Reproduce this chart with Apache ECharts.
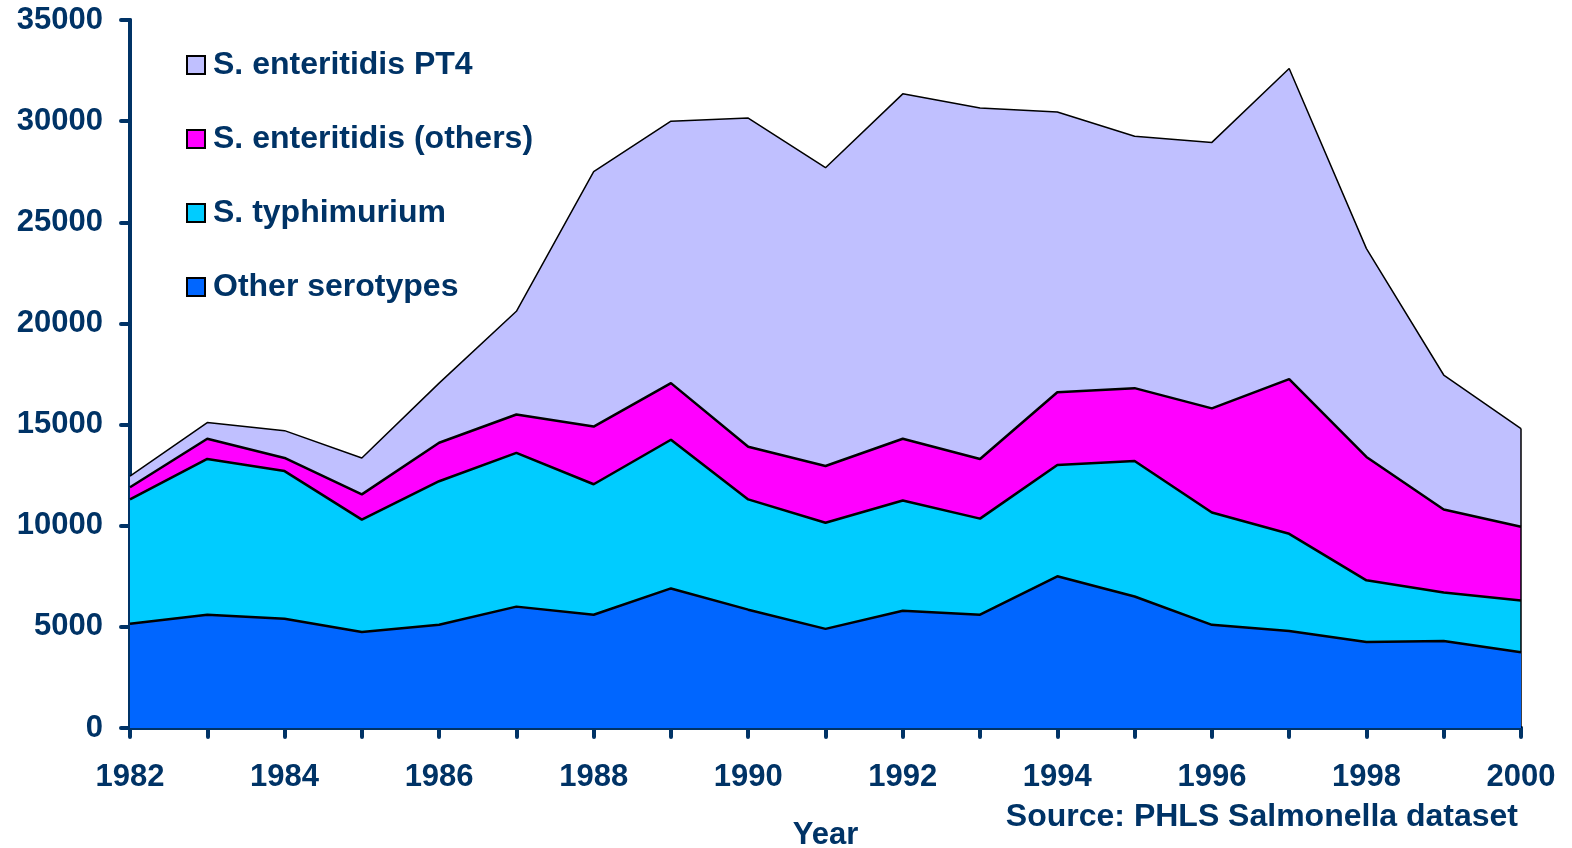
<!DOCTYPE html>
<html lang="en">
<head>
    <meta charset="UTF-8">
    <title>Salmonella serotypes 1982-2000</title>
    <script type="text/javascript" src="https://cdn.jsdelivr.net/npm/echarts@6/dist/echarts.min.js"></script>
    <style>
        html, body { margin: 0; padding: 0; background: #fff; }
    </style>
</head>
<body>
    <div id="charts" style="width:1572px;height:848px;"></div>
</body>
<script type="text/javascript">
    // data (per serotype, stacked from the bottom up)
    var years = ['1982', '1983', '1984', '1985', '1986', '1987', '1988', '1989', '1990', '1991',
                 '1992', '1993', '1994', '1995', '1996', '1997', '1998', '1999', '2000'];
    var otherSerotypes = [5150, 5600, 5400, 4750, 5100, 6000, 5600, 6900, 5850, 4900,
                          5800, 5600, 7500, 6500, 5100, 4800, 4250, 4300, 3750];
    var typhimurium = [6150, 7700, 7300, 5550, 7100, 7600, 6450, 7350, 5450, 5250,
                       5450, 4750, 5500, 6700, 5550, 4800, 3050, 2400, 2550];
    var enteritidisOthers = [600, 1000, 650, 1250, 1900, 1900, 2850, 2800, 2600, 2800,
                             3050, 2950, 3600, 3600, 5150, 7650, 6100, 4100, 3650];
    var enteritidisPT4 = [550, 800, 1350, 1800, 2950, 5100, 12600, 12950, 16250, 14750,
                          17050, 17350, 13850, 12450, 13150, 15350, 10300, 6650, 4850];

    var navy = '#003366';
    var font = 'Liberation Sans, Arial, sans-serif';

    var last = years.length - 1;
    var lastTotal = otherSerotypes[last] + typhimurium[last] + enteritidisOthers[last] + enteritidisPT4[last];

    function area(name, data, color, z, lineWidth) {
        return {
            name: name,
            type: 'line',
            stack: 'total',
            data: data,
            z: z,
            symbol: 'none',
            lineStyle: { color: '#000', width: lineWidth },
            areaStyle: { color: color, opacity: 1 },
            itemStyle: { color: color, borderColor: '#000', borderWidth: 1.5 }
        };
    }

    var myChart = echarts.init(document.getElementById('charts'));

    var pt4 = area('S. enteritidis PT4', enteritidisPT4, '#C0C0FF', 2, 1.5);
    // right-hand edge of the stacked areas
    pt4.markLine = {
        silent: true,
        symbol: 'none',
        animation: false,
        label: { show: false },
        lineStyle: { color: '#000', width: 1.5, type: 'solid' },
        data: [[{ coord: [last, 0] }, { coord: [last, lastTotal] }]]
    };

    var option = {
        animation: false,
        backgroundColor: '#fff',
        grid: { left: 130, right: 51, top: 20, bottom: 120, outerBoundsMode: 'none', containLabel: false },
        legend: {
            orient: 'vertical',
            left: 181,
            top: 44,
            itemWidth: 18,
            itemHeight: 18,
            itemGap: 42,
            icon: 'rect',
            data: ['S. enteritidis PT4', 'S. enteritidis (others)', 'S. typhimurium', 'Other serotypes'],
            textStyle: { color: navy, fontSize: 32, lineHeight: 32, fontWeight: 'bold', fontFamily: font, padding: [0, 0, 0, 3] }
        },
        xAxis: {
            type: 'category',
            data: years,
            boundaryGap: false,
            name: 'Year',
            nameLocation: 'middle',
            nameGap: 92,
            nameTextStyle: { color: navy, fontSize: 31, fontWeight: 'bold', fontFamily: font },
            axisLine: { lineStyle: { color: navy, width: 4 } },
            axisTick: { show: true, interval: 0, length: 9, lineStyle: { color: navy, width: 4, cap: 'round' } },
            axisLabel: { interval: 1, margin: 34, color: navy, fontSize: 31, fontWeight: 'bold', fontFamily: font },
            splitLine: { show: false }
        },
        yAxis: {
            type: 'value',
            min: 0,
            max: 35000,
            interval: 5000,
            axisLine: { show: true, lineStyle: { color: navy, width: 4 } },
            axisTick: { show: true, length: 9, lineStyle: { color: navy, width: 4, cap: 'round' } },
            axisLabel: {
                margin: 27, color: navy, fontSize: 31, fontWeight: 'bold', fontFamily: font,
                formatter: function (v) { return String(v); }
            },
            splitLine: { show: false }
        },
        graphic: [{
            type: 'text',
            right: 54,
            top: 801,
            style: {
                text: 'Source: PHLS Salmonella dataset',
                fill: navy,
                font: 'bold 32px ' + font
            }
        }],
        series: [
            area('Other serotypes', otherSerotypes, '#0066FF', 5, 2.5),
            area('S. typhimurium', typhimurium, '#00CCFF', 4, 2.5),
            area('S. enteritidis (others)', enteritidisOthers, '#FF00FF', 3, 2.5),
            pt4
        ]
    };

    myChart.setOption(option);
</script>
</html>
